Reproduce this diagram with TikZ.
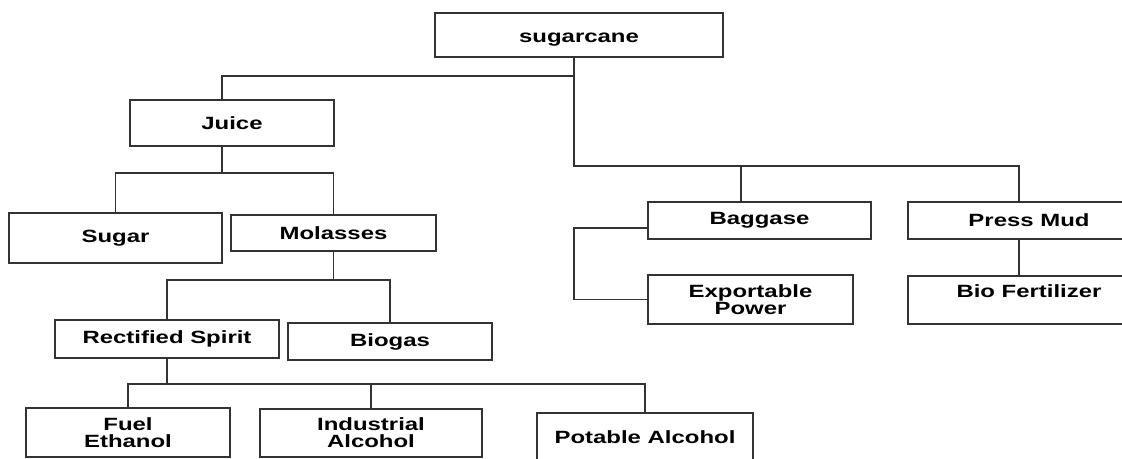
\documentclass[tikz,border=0pt]{standalone}
\usepackage{fontspec}
\setmainfont{Liberation Sans}
\newcommand{\wide}[1]{\scalebox{1.35}[1]{#1}}
\begin{document}
\begin{tikzpicture}[
  x=0.75pt, y=-0.75pt,
  box/.style 2 args={draw=black!80, line width=1pt, rectangle,
             minimum width=#1*0.75pt, minimum height=#2*0.75pt,
             font=\bfseries\fontsize{13.3}{12.75}\selectfont,
             align=center, inner sep=0pt, outer sep=0pt, anchor=center},
  link/.style={draw=black!80, line width=1pt},
]
\useasboundingbox (0,0) rectangle (1122,458);
\clip (0,0) rectangle (1122,458);
% Boxes
\node[box={288}{44}, text height=10.5pt, text depth=0pt] (cane) at (579,35) {\wide{sugarcane}};
\node[box={204}{46}] (juice) at (232,123) {\wide{Juice}};
\node[box={213}{50}] (sugar) at (115.5,238) {\wide{Sugar}};
\node[box={205}{36}] (mol) at (333.5,233) {\wide{Molasses}};
\node[box={224}{38}] (spirit) at (167,339) {\wide{Rectified Spirit}};
\node[box={204}{37}] (biogas) at (390,341.5) {\wide{Biogas}};
\node[box={204}{49}] (fuel) at (128,432.5) {\wide{Fuel}\\\wide{Ethanol}};
\node[box={222}{48}] (indus) at (371,433) {\wide{Industrial}\\\wide{Alcohol}};
\node[box={216}{49}] (potable) at (645,437.5) {\wide{Potable Alcohol}};
\node[box={223}{37}] (bag) at (759.5,220.5) {\wide{Baggase}};
\node[box={205}{49}] (power) at (750.5,299.5) {\wide{Exportable}\\\wide{Power}};
\node[box={242}{37}] (press) at (1029,220.5) {\wide{Press Mud}};
\node[box={242}{48}] (bio) at (1029,300) {\wide{Bio Fertilizer}\\~};
% Links
\draw[link] ([shift={(-5,0)}]cane.south) -- ++(0,109) -| ([shift={(-10,0)}]press.north);
\draw[link] ([shift={(-5,0)}]cane.south) ++(0,19) -| ([shift={(-10,0)}]juice.north);
\draw[link] ([shift={(-5,0)}]cane.south) ++(0,109) -| ([shift={(-18.5,0)}]bag.north);
\draw[link] ([shift={(-10,0)}]juice.south) -- ++(0,27);
\draw[link] (sugar.north) -- (sugar.north |- 0,173) -| (mol.north);
\draw[link] (mol.south) -- (mol.south |- 0,280);
\draw[link] (spirit.north) -- (spirit.north |- 0,280) -| (biogas.north);
\draw[link] (spirit.south) -- (spirit.south |- 0,384);
\draw[link] (fuel.north) -- (fuel.north |- 0,384) -| (potable.north);
\draw[link] (indus.north) -- (indus.north |- 0,384);
\draw[link] ([shift={(0,7.5)}]bag.west) -- ++(-74,0) |- (power.west);
\draw[link] ([shift={(-10,0)}]press.south) -- ([shift={(-10,0)}]bio.north);
\end{tikzpicture}
\end{document}
